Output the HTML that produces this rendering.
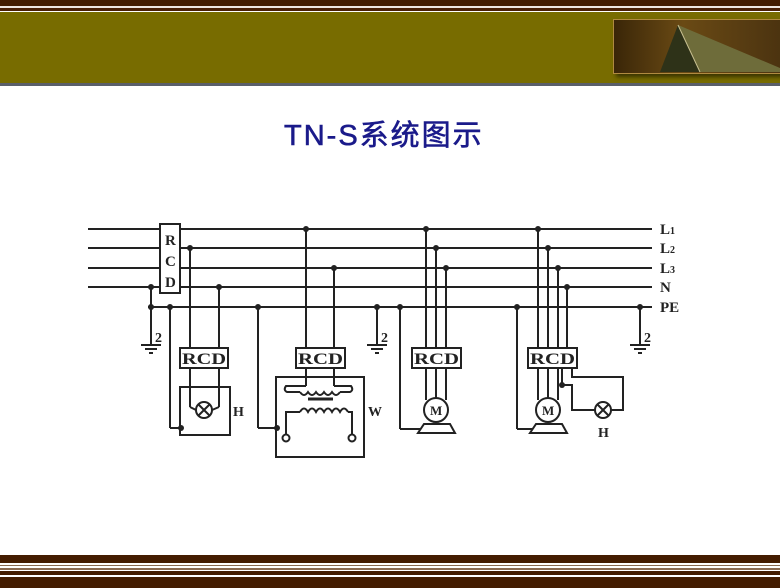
<!DOCTYPE html>
<html><head><meta charset="utf-8"><style>
html,body{margin:0;padding:0;}
body{width:780px;height:588px;position:relative;background:#fff;overflow:hidden;font-family:"Liberation Serif",serif;}
.a{position:absolute;left:0;width:780px;}
</style></head><body>
<div class="a" style="top:0;height:6px;background:#441c00"></div>
<div class="a" style="top:6px;height:2px;background:#efe6e0"></div>
<div class="a" style="top:8px;height:3px;background:#4a1f05"></div>
<div class="a" style="top:11px;height:1px;background:#fff"></div>
<div class="a" style="top:12px;height:71px;background:#786c00"></div>
<div class="a" style="top:83px;height:3px;background:#5a5f6a"></div>
<div style="position:absolute;left:613px;top:19px;width:172px;height:53px;border:1px solid #b08a40;background:linear-gradient(90deg,#3a2608,#6a4a14 40%,#4a3210);box-shadow:3px 3px 4px #3a3400;"></div>
<svg style="position:absolute;left:0;top:0" width="780" height="588">
<polygon points="678,25 660,72 700,72" fill="#2e3218"/>
<polygon points="678,25 700,72 780,72 780,68" fill="#6e6c3a"/>
<line x1="678" y1="25" x2="700" y2="72" stroke="#c8c090" stroke-width="1"/>
</svg>
<div class="a" style="top:555px;height:8px;background:#441c00"></div>
<div class="a" style="top:563px;height:2px;background:#fff"></div>
<div class="a" style="top:565px;height:1px;background:#8a6a50"></div>
<div class="a" style="top:566px;height:2px;background:#fff"></div>
<div class="a" style="top:568px;height:2px;background:#8a6a50"></div>
<div class="a" style="top:570px;height:1px;background:#fff"></div>
<div class="a" style="top:571px;height:4px;background:#441c00"></div>
<div class="a" style="top:575px;height:2px;background:#fff"></div>
<div class="a" style="top:577px;height:11px;background:#441c00"></div>
<div style="position:absolute;left:284px;top:112px;font-family:'Liberation Sans','Noto Sans CJK SC',sans-serif;font-size:29px;color:#1a1a8a;letter-spacing:2px;-webkit-text-stroke:0.6px #1a1a8a;">TN-S系统图示</div>
<svg style="position:absolute;left:0;top:0" width="780" height="588" fill="none" stroke="#222" stroke-width="2" font-family="Liberation Serif,serif" font-weight="bold">
<g>
<line x1="88" y1="229" x2="652" y2="229"/><line x1="88" y1="248" x2="652" y2="248"/>
<line x1="88" y1="268" x2="652" y2="268"/><line x1="88" y1="287" x2="652" y2="287"/>
<line x1="148" y1="307" x2="652" y2="307"/>
<rect x="160" y="224" width="20" height="69" fill="#fff"/>
<line x1="151" y1="287" x2="151" y2="345"/><line x1="141" y1="345" x2="161" y2="345"/><line x1="145" y1="349" x2="157" y2="349"/><line x1="149" y1="353" x2="153" y2="353"/>
<line x1="190" y1="248" x2="190" y2="407"/><line x1="219" y1="287" x2="219" y2="407"/>
<rect x="180" y="348" width="48" height="20" fill="#fff"/>
<rect x="180" y="387" width="50" height="48"/>
<line x1="170" y1="307" x2="170" y2="428"/><line x1="170" y1="428" x2="181" y2="428"/>
<circle cx="204" cy="410" r="8" fill="#fff"/><line x1="198" y1="404" x2="210" y2="416"/><line x1="210" y1="404" x2="198" y2="416"/>
<line x1="190" y1="407" x2="196" y2="410"/><line x1="219" y1="407" x2="212" y2="410"/>
<line x1="306" y1="229" x2="306" y2="386"/><line x1="334" y1="268" x2="334" y2="386"/>
<rect x="296" y="348" width="49" height="20" fill="#fff"/>
<rect x="276" y="377" width="88" height="80"/>
<path d="M306 386 L286 386 Q283 390 287 392 L300 392 M334 386 L351 386 Q354 390 350 392 L340 392"/>
<path d="M300 392 q4 6 8 0 q4 6 8 0 q4 6 8 0 q4 6 8 0 q4 6 8 0"/>
<line x1="308" y1="399" x2="333" y2="399" stroke-width="3"/>
<path d="M300 412 q4 -7 8 0 q4 -7 8 0 q4 -7 8 0 q4 -7 8 0 q4 -7 8 0 q4 -7 8 0"/>
<path d="M300 412 L286 412 L286 435 M348 412 L352 412 L352 435"/>
<circle cx="286" cy="438" r="3.5" fill="#fff"/><circle cx="352" cy="438" r="3.5" fill="#fff"/>
<line x1="258" y1="307" x2="258" y2="428"/><line x1="258" y1="428" x2="277" y2="428"/>
<line x1="377" y1="307" x2="377" y2="345"/><line x1="367" y1="345" x2="387" y2="345"/><line x1="371" y1="349" x2="383" y2="349"/><line x1="375" y1="353" x2="379" y2="353"/>
<line x1="426" y1="229" x2="426" y2="400"/><line x1="436" y1="248" x2="436" y2="398"/><line x1="446" y1="268" x2="446" y2="400"/>
<rect x="412" y="348" width="49" height="20" fill="#fff"/>
<circle cx="436" cy="410" r="12" fill="#fff"/>
<path d="M424 424 L450 424 L455 433 L418 433 Z"/>
<line x1="400" y1="307" x2="400" y2="429"/><line x1="400" y1="429" x2="420" y2="429"/>
<line x1="538" y1="229" x2="538" y2="400"/><line x1="548" y1="248" x2="548" y2="398"/><line x1="558" y1="268" x2="558" y2="400"/><line x1="567" y1="287" x2="567" y2="348"/>
<rect x="528" y="348" width="49" height="20" fill="#fff"/>
<circle cx="548" cy="410" r="12" fill="#fff"/>
<path d="M536 424 L562 424 L567 433 L530 433 Z"/>
<line x1="517" y1="307" x2="517" y2="429"/><line x1="517" y1="429" x2="533" y2="429"/>
<path d="M572 368 L572 377 L623 377 L623 410 L611 410"/>
<path d="M562 368 L562 385 L572 385 L572 410 L595 410"/>
<circle cx="603" cy="410" r="8" fill="#fff"/><line x1="597" y1="404" x2="609" y2="416"/><line x1="609" y1="404" x2="597" y2="416"/>
<line x1="640" y1="307" x2="640" y2="345"/><line x1="630" y1="345" x2="650" y2="345"/><line x1="634" y1="349" x2="646" y2="349"/><line x1="638" y1="353" x2="642" y2="353"/>
</g>
<g fill="#222" stroke="none">
<circle cx="190" cy="248" r="3"/><circle cx="151" cy="287" r="3"/><circle cx="151" cy="307" r="3"/><circle cx="170" cy="307" r="3"/><circle cx="219" cy="287" r="3"/>
<circle cx="181" cy="428" r="3"/><circle cx="306" cy="229" r="3"/><circle cx="334" cy="268" r="3"/><circle cx="258" cy="307" r="3"/><circle cx="277" cy="428" r="3"/><circle cx="377" cy="307" r="3"/>
<circle cx="400" cy="307" r="3"/><circle cx="426" cy="229" r="3"/><circle cx="436" cy="248" r="3"/><circle cx="446" cy="268" r="3"/>
<circle cx="517" cy="307" r="3"/><circle cx="538" cy="229" r="3"/><circle cx="548" cy="248" r="3"/><circle cx="558" cy="268" r="3"/><circle cx="567" cy="287" r="3"/><circle cx="562" cy="385" r="3"/><circle cx="640" cy="307" r="3"/>
<text x="165" y="245" font-size="15">R</text><text x="165" y="266" font-size="15">C</text><text x="165" y="287" font-size="15">D</text>
<text x="182" y="364" font-size="16" textLength="44" lengthAdjust="spacingAndGlyphs">RCD</text><text x="298" y="364" font-size="16" textLength="45" lengthAdjust="spacingAndGlyphs">RCD</text><text x="414" y="364" font-size="16" textLength="45" lengthAdjust="spacingAndGlyphs">RCD</text><text x="530" y="364" font-size="16" textLength="45" lengthAdjust="spacingAndGlyphs">RCD</text>
<text x="430" y="415" font-size="13">M</text><text x="542" y="415" font-size="13">M</text>
<text x="233" y="416" font-size="14">H</text><text x="368" y="416" font-size="14">W</text><text x="598" y="437" font-size="14">H</text>
<text x="155" y="342" font-size="14">2</text><text x="381" y="342" font-size="14">2</text><text x="644" y="342" font-size="14">2</text>
<text x="660" y="234" font-size="15">L<tspan font-size="10">1</tspan></text>
<text x="660" y="253" font-size="15">L<tspan font-size="10">2</tspan></text>
<text x="660" y="273" font-size="15">L<tspan font-size="10">3</tspan></text>
<text x="660" y="292" font-size="15">N</text>
<text x="660" y="312" font-size="15">PE</text>
</g>
</svg>
</body></html>
